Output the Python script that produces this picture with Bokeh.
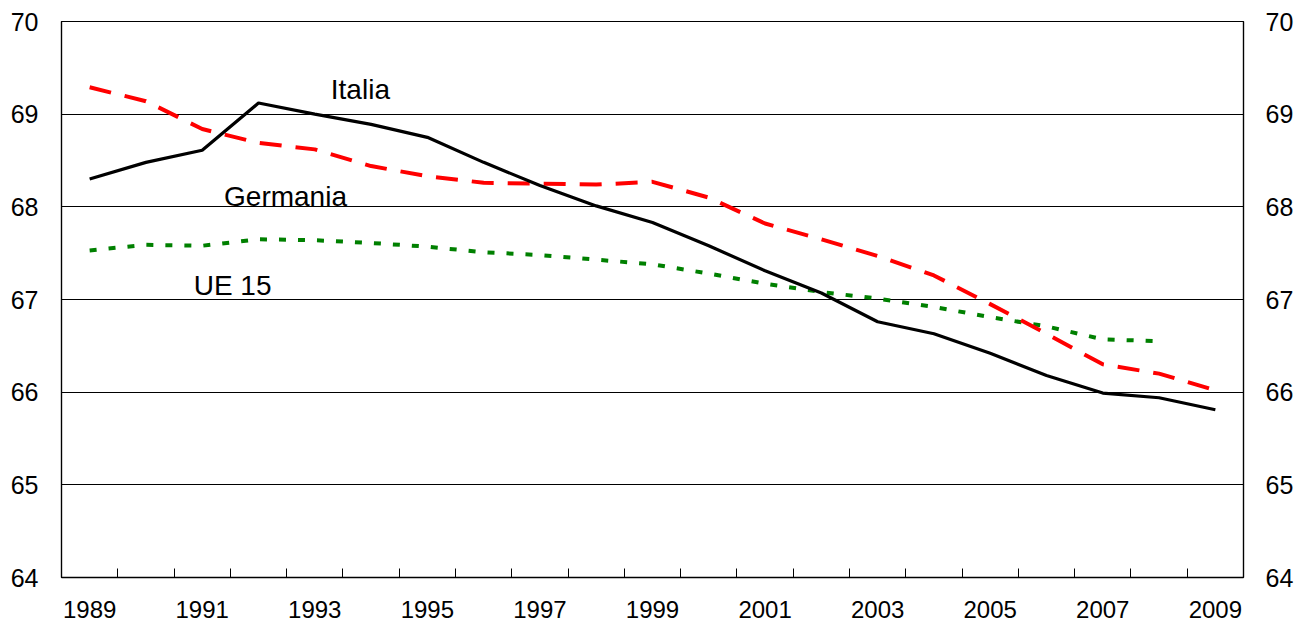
from bokeh.plotting import figure
from bokeh.models import Range1d, LinearAxis, FixedTicker, Label, ColumnDataSource
from bokeh.embed import file_html
from bokeh.resources import INLINE

years = list(range(1989, 2010))
italia = [68.30, 68.48, 68.61, 69.12, 69.00, 68.89, 68.75, 68.48, 68.23, 68.01, 67.83,
          67.58, 67.31, 67.07, 66.76, 66.63, 66.42, 66.18, 65.99, 65.94, 65.81]
germania = [69.29, 69.14, 68.84, 68.69, 68.62, 68.44, 68.33, 68.26, 68.25, 68.24, 68.27,
            68.10, 67.82, 67.65, 67.47, 67.26, 66.95, 66.63, 66.30, 66.20, 66.02]
ue15_years = list(range(1989, 2009))
ue15 = [67.53, 67.59, 67.58, 67.65, 67.64, 67.61, 67.57, 67.51, 67.48, 67.43,
        67.38, 67.28, 67.17, 67.08, 67.01, 66.92, 66.81, 66.71, 66.57, 66.55]
tick_years = list(range(1989, 2010, 2))
y_ticks = [64, 65, 66, 67, 68, 69, 70]
series_labels = ["Italia", "Germania", "UE 15"]

FONT = "Liberation Sans"

p = figure(frame_width=1182, frame_height=556, output_backend="svg", toolbar_location=None,
           x_range=Range1d(1988.5, 2009.5), y_range=Range1d(64, 70),
           min_border_left=61, min_border_right=50, min_border_top=21, min_border_bottom=52)
p.background_fill_color = "white"
p.border_fill_color = "white"
p.outline_line_color = "black"
p.outline_line_width = 1.2

# axes
xa = p.xaxis[0]
xa.ticker = FixedTicker(ticks=tick_years, minor_ticks=[y + 0.5 for y in years[:-1]])
xa.major_tick_in = 0
xa.major_tick_out = 0
xa.minor_tick_in = 9
xa.minor_tick_out = 0
xa.minor_tick_line_color = "black"
xa.axis_line_color = "black"
xa.axis_line_width = 1.5
xa.major_label_standoff = 23
xa.major_label_text_font = FONT
xa.major_label_text_font_size = "24px"
xa.major_label_text_color = "black"

ya = p.yaxis[0]
ya.ticker = FixedTicker(ticks=y_ticks)
ya.major_tick_in = 6
ya.major_tick_out = 0
ya.minor_tick_in = 0
ya.minor_tick_out = 0
ya.axis_line_color = "black"
ya.axis_line_width = 1.2
ya.major_label_standoff = 23
ya.major_label_text_font = FONT
ya.major_label_text_font_size = "25px"
ya.major_label_text_color = "black"

ra = LinearAxis(ticker=FixedTicker(ticks=y_ticks))
ra.major_tick_in = 0
ra.major_tick_out = 0
ra.minor_tick_in = 0
ra.minor_tick_out = 0
ra.axis_line_color = "black"
ra.axis_line_width = 1.2
ra.major_label_standoff = 22
ra.major_label_text_font = FONT
ra.major_label_text_font_size = "25px"
ra.major_label_text_color = "black"
p.add_layout(ra, "right")

p.xgrid.grid_line_color = None
p.ygrid.ticker = FixedTicker(ticks=y_ticks)
p.ygrid.grid_line_color = "black"
p.ygrid.grid_line_width = 1.2

src_i = ColumnDataSource(dict(x=years, y=italia))
src_g = ColumnDataSource(dict(x=years, y=germania))
src_u = ColumnDataSource(dict(x=ue15_years, y=ue15))

p.line("x", "y", source=src_u, line_color="#008000", line_width=4, line_dash="7 12")
p.line("x", "y", source=src_g, line_color="#FF0000", line_width=4, line_dash="22 14")
p.line("x", "y", source=src_i, line_color="black", line_width=3.2)

label_pos = [(1993.81, 69.27), (1992.48, 68.11), (1991.54, 67.15)]
for txt, (lx, ly) in zip(series_labels, label_pos):
    p.add_layout(Label(x=lx, y=ly, text=txt, text_align="center", text_baseline="middle",
                       text_font=FONT, text_font_size="28px", text_color="black"))

open("out.html", "w").write(file_html(p, INLINE))
